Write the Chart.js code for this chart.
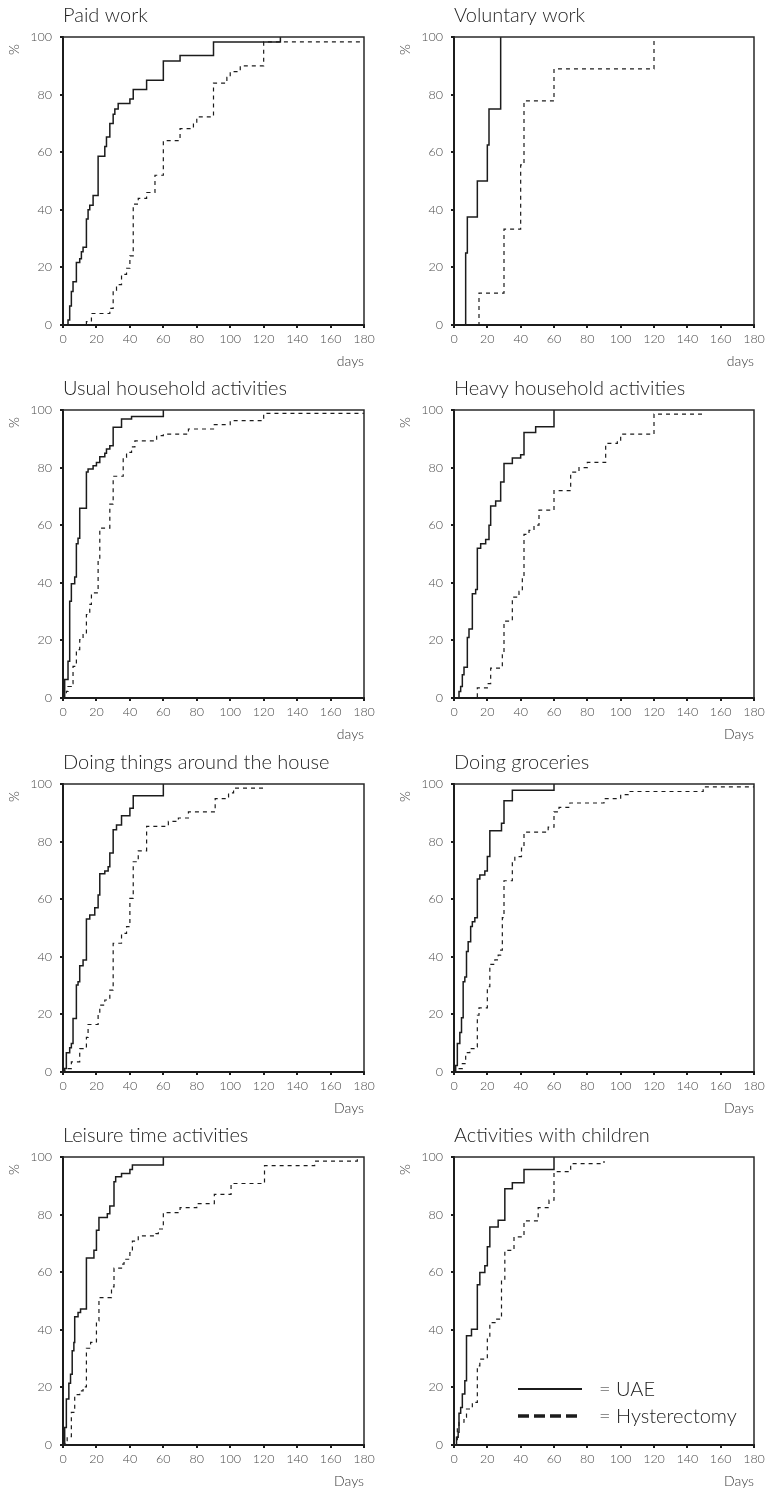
<!DOCTYPE html>
<html>
<head>
<meta charset="utf-8">
<script src="https://cdn.jsdelivr.net/npm/chart.js@4.4.0/dist/chart.umd.min.js"></script>
<style>
  html, body { margin: 0; padding: 0; background: #fff; }
  #page { position: relative; width: 767px; height: 1492px; overflow: hidden; }
  #page canvas { position: absolute; }
</style>
</head>
<body>
<div id="page"></div>
<script>
// cumulative % resumed, by day, per activity and group
const paidUaeDays = [0, 3, 4, 5, 6, 8, 10, 11, 12, 14, 15, 16, 18, 21, 25, 26, 28, 30, 31, 33, 40, 42, 50, 60, 70, 90, 130];
const paidUaePct = [0, 1.7, 6.6, 11.6, 15, 21.7, 23, 25.4, 27, 36.8, 40, 41.6, 45, 58.6, 62, 65.3, 70, 73.2, 75, 76.9, 78.5, 81.8, 85, 91.7, 93.6, 98.3, 100];
const paidHystDays = [0, 14, 17, 28, 30, 32, 35, 38, 40, 42, 45, 50, 55, 60, 70, 78, 80, 90, 98, 100, 106, 120, 180];
const paidHystPct = [0, 1.2, 4, 5.8, 12, 14, 17.6, 19.7, 24, 42, 44, 46, 52, 64, 68.2, 70, 72.3, 84, 86, 88, 90, 98.3, 98.3];

const volUaeDays = [0, 7, 8, 14, 20, 21, 28];
const volUaePct = [0, 25, 37.5, 50, 62.5, 75, 100];
const volHystDays = [0, 15, 30, 40, 42, 60, 120];
const volHystPct = [0, 11.1, 33.3, 55.6, 77.8, 88.9, 100];

const usualUaeDays = [0, 1, 3, 4, 5, 7, 8, 9, 10, 14, 15, 18, 20, 22, 25, 26, 28, 30, 35, 41, 60];
const usualUaePct = [0, 6.4, 12.8, 33.6, 39.7, 42, 53.6, 55.5, 65.9, 78.5, 79.5, 80.6, 81.8, 83.8, 85, 86.5, 87.6, 94, 96.9, 97.7, 100];
const usualHystDays = [0, 2, 3, 5, 6, 8, 10, 12, 14, 16, 17, 21, 22, 28, 30, 36, 38, 41, 43, 56, 60, 75, 90, 100, 120, 180];
const usualHystPct = [0, 2.3, 4, 5, 11, 16.8, 20.3, 22, 29, 32.5, 36.5, 47.6, 59, 67.3, 77, 83.5, 85.3, 87.2, 89.3, 91.1, 91.6, 93.4, 94.9, 96.3, 98.8, 98.8];

const heavyUaeDays = [0, 3, 4, 5, 6, 8, 9, 11, 13, 14, 16, 19, 21, 22, 25, 28, 30, 35, 40, 42, 49, 60];
const heavyUaePct = [0, 2.3, 4, 8.1, 10.7, 21, 24, 36.2, 37.7, 52, 53.6, 55, 60, 66.7, 68.4, 75, 81.4, 83.3, 84.5, 92.2, 94.2, 100];
const heavyHystDays = [0, 14, 20, 22, 29, 30, 35, 39, 41, 42, 45, 48, 51, 60, 70, 75, 80, 91, 98, 100, 120, 150];
const heavyHystPct = [0, 3.5, 5, 10.4, 15, 26.7, 35, 37, 42, 56.8, 58.2, 60, 65.2, 72, 78.4, 80, 81.8, 88.4, 89.3, 91.6, 98.6, 98.6];

const houseUaeDays = [0, 1, 2, 4, 5, 6, 8, 9, 10, 12, 14, 16, 19, 21, 22, 25, 27, 28, 30, 32, 35, 40, 42, 60];
const houseUaePct = [0, 1.2, 6.7, 8.4, 9.9, 18.6, 30.2, 31.3, 36.9, 38.9, 53.1, 54.5, 57, 61.5, 68.8, 69.8, 71.3, 76, 84.1, 85.8, 89, 91.6, 95.9, 100];
const houseHystDays = [0, 1, 5, 10, 14, 15, 21, 22, 25, 28, 30, 35, 38, 40, 42, 45, 50, 63, 69, 75, 91, 99, 102, 120];
const houseHystPct = [0, 1.2, 3.5, 8.1, 12, 16.5, 20.3, 23.2, 25, 28.4, 44.7, 48.1, 50.5, 60.3, 73, 76.8, 85.3, 87, 88.2, 90.3, 94.9, 96.9, 98.6, 99.5];

const grocUaeDays = [0, 1, 2, 3.5, 4.5, 5.5, 6.5, 7.5, 8.5, 10, 11, 12.5, 14, 15.5, 18.5, 20, 21.5, 28.5, 30, 35, 60];
const grocUaePct = [0, 2.3, 9.9, 13.7, 18.8, 31.3, 33, 41.8, 45.2, 50.5, 52.2, 53.6, 67, 68.4, 69.8, 74.8, 83.8, 86.4, 94.2, 97.8, 100];
const grocHystDays = [0, 2.5, 5, 7, 9.5, 12, 14, 15, 20, 21.5, 24.5, 26.5, 28, 29, 30, 35, 36.5, 40.5, 42, 56.5, 60, 63, 69.5, 90, 100, 104.5, 149.5, 180];
const grocHystPct = [0, 1.2, 2.9, 6.7, 8.1, 8.7, 19.7, 22.3, 29.6, 37.4, 38.9, 40.6, 42.3, 53.6, 66.4, 72.9, 74.8, 77.7, 83.3, 85, 90.3, 91.9, 93.4, 94.9, 96.3, 97.4, 99, 99];

const leisUaeDays = [0, 1, 2, 3.5, 4.5, 5.5, 6.5, 7, 9, 10.5, 14, 18.5, 20, 21.5, 26.5, 28, 30.5, 31.5, 35, 40, 41.5, 60];
const leisUaePct = [0, 6.1, 16, 21.4, 24.6, 32.7, 35.6, 44.5, 46, 47.2, 64.9, 67.6, 74.6, 79, 80.3, 83, 91.4, 93.1, 94.3, 95.7, 97.2, 100];
const leisHystDays = [0, 1.5, 2.5, 5, 7, 10, 12, 14, 16.5, 20, 21.5, 29, 30.5, 35, 36.5, 40, 41.5, 45, 55.5, 57, 60, 70, 80, 90.5, 100.5, 120.5, 150.5, 176];
const leisHystPct = [0, 1.5, 2.9, 11.3, 17.5, 18.8, 20.2, 33.6, 35.6, 43.1, 51.2, 54.9, 61.4, 62.8, 64.5, 66.8, 70.8, 72.6, 73.4, 75, 80.7, 82.4, 83.8, 87, 90.8, 97, 98.6, 99.6];

const kidsUaeDays = [0, 1.5, 2.5, 3, 4, 5, 6.5, 7.5, 10.5, 14, 15.5, 18.5, 20, 21.5, 26.5, 30.5, 35, 42, 60];
const kidsUaePct = [0, 2.7, 4.4, 11, 13, 17.7, 22.3, 37.9, 40.2, 55.6, 59.9, 62.2, 68.8, 75.7, 78, 89, 91.1, 95.7, 100];
const kidsHystDays = [0, 2, 3, 6, 7.5, 11, 14, 15.5, 20, 21.5, 25, 28.5, 30.5, 36, 42, 50.5, 57, 60, 70, 90];
const kidsHystPct = [0, 6.1, 7.9, 9.6, 12.5, 14.8, 27.5, 29.8, 36.8, 42.5, 43.7, 57.2, 67.6, 72.3, 77.8, 82.4, 85, 94.9, 97.7, 98.6];

const panelTitles = [
    "Paid work", "Voluntary work",
    "Usual household activities", "Heavy household activities",
    "Doing things around the house", "Doing groceries",
    "Leisure time activities", "Activities with children",
];
const dayLabels = ["days", "days", "days", "Days", "Days", "Days", "Days", "Days"];
const groupNames = ["UAE", "Hysterectomy"];
const dayTicks = [0, 20, 40, 60, 80, 100, 120, 140, 160, 180];
const pctTicks = [0, 20, 40, 60, 80, 100];

const series = [
    [paidUaeDays, paidUaePct, paidHystDays, paidHystPct],
    [volUaeDays, volUaePct, volHystDays, volHystPct],
    [usualUaeDays, usualUaePct, usualHystDays, usualHystPct],
    [heavyUaeDays, heavyUaePct, heavyHystDays, heavyHystPct],
    [houseUaeDays, houseUaePct, houseHystDays, houseHystPct],
    [grocUaeDays, grocUaePct, grocHystDays, grocHystPct],
    [leisUaeDays, leisUaePct, leisHystDays, leisHystPct],
    [kidsUaeDays, kidsUaePct, kidsHystDays, kidsHystPct],
];

const toPoints = (days, pct) => days.map((d, i) => ({ x: d, y: pct[i] }));

Chart.defaults.font.family = "Lato, 'Open Sans', 'DejaVu Sans', sans-serif";
Chart.defaults.font.weight = "normal";
Chart.defaults.color = "#444";

const INK = "#1c1c1c";

// thin top and right edges of the plot box
const frame = {
    id: "frame",
    afterDraw(chart) {
        const { ctx, chartArea: a } = chart;
        ctx.save();
        ctx.strokeStyle = "#2a2a2a";
        ctx.lineWidth = 1.5;
        ctx.beginPath();
        ctx.moveTo(a.left, a.top);
        ctx.lineTo(a.right, a.top);
        ctx.lineTo(a.right, a.bottom);
        ctx.stroke();
        ctx.restore();
    },
};

// line key drawn inside the last panel
const key = {
    id: "key",
    afterDraw(chart) {
        const { ctx, chartArea: a } = chart;
        ctx.save();
        chart.data.datasets.forEach((ds, i) => {
            const y = a.bottom - 56 + i * 27;
            const x0 = a.left + 64;
            ctx.strokeStyle = INK;
            ctx.lineWidth = i === 0 ? 2 : 3.5;
            ctx.setLineDash(i === 0 ? [] : [11, 5]);
            ctx.beginPath();
            ctx.moveTo(x0, y);
            ctx.lineTo(x0 + 64, y);
            ctx.stroke();
            ctx.setLineDash([]);
            ctx.fillStyle = "#222";
            ctx.font = "300 20px Lato, 'Open Sans', sans-serif";
            ctx.textBaseline = "middle";
            ctx.fillText("= " + ds.label, x0 + 81, y + 1);
        });
        ctx.restore();
    },
};

const page = document.getElementById("page");
const rowTops = [0, 373, 747, 1120];

series.forEach((s, idx) => {
    const col = idx % 2;
    const row = Math.floor(idx / 2);
    const canvas = document.createElement("canvas");
    const w = col === 0 ? 383 : 384;
    canvas.width = w;
    canvas.height = 373;
    canvas.style.left = (col === 0 ? 0 : 383) + "px";
    canvas.style.top = rowTops[row] + "px";
    canvas.style.width = w + "px";
    canvas.style.height = "373px";
    page.appendChild(canvas);

    const plugins = [frame];
    if (idx === 7) plugins.push(key);

    new Chart(canvas, {
        type: "line",
        data: {
            datasets: [
                {
                    label: groupNames[0],
                    data: toPoints(s[0], s[1]),
                    borderColor: INK,
                    borderWidth: 1.5,
                    stepped: true,
                    pointRadius: 0,
                    fill: false,
                },
                {
                    label: groupNames[1],
                    data: toPoints(s[2], s[3]),
                    borderColor: INK,
                    borderWidth: 1.2,
                    borderDash: [4, 4],
                    stepped: true,
                    pointRadius: 0,
                    fill: false,
                },
            ],
        },
        plugins: plugins,
        options: {
            responsive: false,
            animation: false,
            events: [],
            layout: {
                padding: col === 0
                    ? { left: 3, right: 19, top: 0, bottom: 0 }
                    : { left: 11, right: 13, top: 0, bottom: 0 },
            },
            plugins: {
                legend: { display: false },
                tooltip: { enabled: false },
                title: {
                    display: true,
                    text: panelTitles[idx],
                    align: "start",
                    fullSize: false,
                    color: "#1e1e1e",
                    font: { size: 20, weight: "300" },
                    padding: { top: 4, bottom: 9 },
                },
            },
            scales: {
                x: {
                    type: "linear",
                    min: 0,
                    max: 180,
                    afterBuildTicks: (sc) => {
                        sc.ticks = dayTicks.map((v) => ({ value: v }));
                    },
                    afterFit: (sc) => {
                        sc.height = 48;
                        sc.paddingLeft = 0;
                        sc.paddingRight = 0;
                    },
                    border: { display: true, color: INK, width: 2 },
                    grid: {
                        drawOnChartArea: false,
                        drawTicks: true,
                        tickLength: 3,
                        color: INK,
                        lineWidth: 2,
                    },
                    ticks: {
                        padding: 3,
                        maxRotation: 0,
                        autoSkip: false,
                        color: "#4a4a4a",
                        font: { size: 12.5, weight: "300" },
                    },
                    title: {
                        display: true,
                        text: dayLabels[idx],
                        align: "end",
                        color: "#3a3a3a",
                        font: { size: 14, weight: "300" },
                        padding: { top: 0, bottom: 3 },
                    },
                },
                y: {
                    min: 0,
                    max: 100,
                    afterBuildTicks: (sc) => {
                        sc.ticks = pctTicks.map((v) => ({ value: v }));
                    },
                    afterFit: (sc) => {
                        sc.width = 60;
                        sc.paddingTop = 0;
                        sc.paddingBottom = 0;
                    },
                    border: { display: true, color: INK, width: 2 },
                    grid: {
                        drawOnChartArea: false,
                        drawTicks: true,
                        tickLength: 3,
                        color: INK,
                        lineWidth: 2,
                    },
                    ticks: {
                        padding: 8,
                        autoSkip: false,
                        color: "#4a4a4a",
                        font: { size: 12.5, weight: "300" },
                    },
                    title: {
                        display: true,
                        text: "%\u2002",
                        align: "end",
                        color: "#3a3a3a",
                        font: { size: 14, weight: "300" },
                        padding: { top: 3, bottom: 3 },
                    },
                },
            },
        },
    });
});
</script>
</body>
</html>
